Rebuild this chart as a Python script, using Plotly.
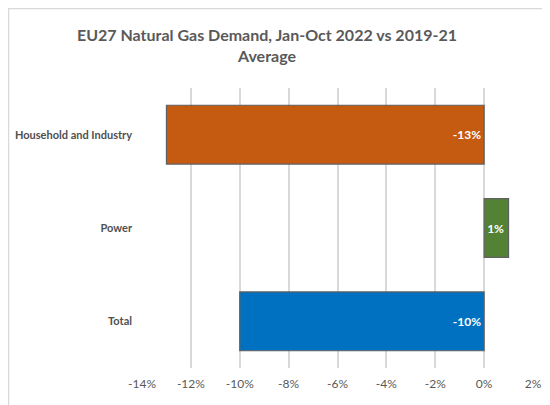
import plotly.graph_objects as go

categories = ["Household and Industry", "Power", "Total"]
values = [-13, 1, -10]
labels = ["-13%", "1%", "-10%"]
colors = ["#C55A11", "#548235", "#0070C0"]
tick_vals = [-14, -12, -10, -8, -6, -4, -2, 0, 2]
tick_text = ["-14%", "-12%", "-10%", "-8%", "-6%", "-4%", "-2%", "0%", "2%"]

# page has an 8px body margin, so figure coords = screen coords - 8
W, H = 550, 405
L, R, T, B = 134, 25, 80, 45

fig = go.Figure()
fig.add_trace(go.Bar(
    y=categories, x=values, orientation="h",
    marker=dict(color=colors, line=dict(color="#606060", width=1.2)),
    text=labels, textposition="inside", insidetextanchor="start",
    textfont=dict(color="white", size=12, family="Lato", weight="bold"),
    width=0.63, cliponaxis=False,
))

# chart border (light grey frame, left and top visible)
pw, ph = W - L - R, H - T - B
def px(x):
    return (x - L) / pw
def py(y):
    return (H - B - y) / ph
fig.add_shape(type="line", xref="paper", yref="paper",
              x0=px(0), x1=px(560), y0=py(0.5), y1=py(0.5),
              line=dict(color="#d9d9d9", width=1.5))
fig.add_shape(type="line", xref="paper", yref="paper",
              x0=px(0.5), x1=px(0.5), y0=py(0), y1=py(420),
              line=dict(color="#d9d9d9", width=1.5))

fig.update_layout(
    width=W, height=H,
    margin=dict(l=L, r=R, t=T, b=B, autoexpand=False),
    paper_bgcolor="white", plot_bgcolor="white",
    showlegend=False,
    title=dict(
        text="EU27 Natural Gas Demand, Jan-Oct 2022 vs 2019-21<br>Average",
        x=259 / W, xanchor="center", y=1 - 33 / H, yanchor="top",
        font=dict(size=16, color="#595959", family="Lato", weight="bold"),
    ),
    font=dict(family="Lato", color="#595959"),
    xaxis=dict(
        range=[-14, 2], tickvals=tick_vals, ticktext=tick_text,
        showgrid=True, gridcolor="#d9d9d9", gridwidth=1.5,
        zeroline=False, showline=False, automargin=False,
        tickfont=dict(size=12, color="#595959"), ticklabelstandoff=7,
    ),
    yaxis=dict(
        autorange="reversed", showgrid=False, zeroline=False, showline=False,
        automargin=False,
        tickfont=dict(size=11, color="#505050", weight="bold"), ticklabelstandoff=9,
    ),
)

fig.write_html("out.html")
